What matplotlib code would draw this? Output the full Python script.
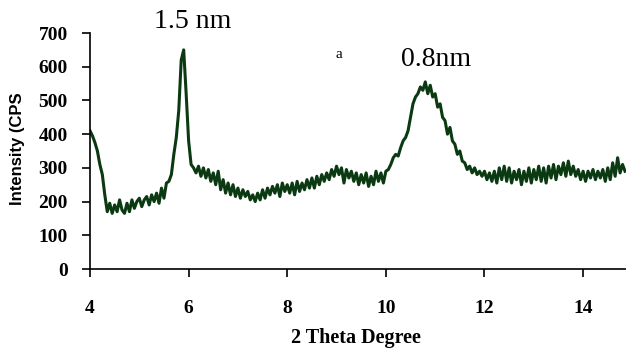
import numpy as np
import matplotlib
matplotlib.use("Agg")
import matplotlib.pyplot as plt

# XRD scan, 2-theta from 4.00 to 14.85 in 0.05 steps
two_theta = np.round(np.arange(4.0, 14.851, 0.05), 2)

intensity = [
    # 4.00 - 4.95
    410, 395, 375, 350, 310, 280, 220, 170, 195, 165, 190, 170, 205, 175, 165, 195, 170, 205, 180, 200,
    # 5.00 - 5.95
    210, 185, 205, 215, 190, 220, 200, 225, 195, 240, 210, 255, 260, 280, 340, 390, 470, 620, 650, 520,
    # 6.00 - 6.95
    380, 310, 300, 285, 305, 275, 300, 270, 295, 260, 285, 250, 290, 235, 265, 225, 255, 220, 250, 215,
    # 7.00 - 7.95
    240, 210, 235, 215, 230, 205, 220, 200, 225, 205, 235, 210, 240, 220, 245, 225, 250, 215, 255, 230,
    # 8.00 - 8.95
    250, 225, 255, 220, 260, 230, 255, 235, 265, 240, 270, 240, 275, 250, 280, 260, 285, 265, 295, 275,
    # 9.00 - 9.95
    305, 280, 300, 255, 295, 270, 290, 260, 285, 250, 280, 255, 285, 245, 275, 250, 290, 260, 285, 255,
    # 10.00 - 10.95
    290, 295, 310, 330, 340, 335, 360, 380, 390, 410, 450, 490, 510, 520, 540, 530, 555, 520, 545, 510,
    # 11.00 - 11.95
    520, 480, 490, 450, 440, 400, 420, 380, 370, 340, 350, 320, 315, 295, 305, 285, 300, 280, 290, 275,
    # 12.00 - 12.95
    290, 265, 285, 260, 290, 255, 300, 265, 305, 260, 300, 255, 290, 265, 295, 250, 290, 260, 300, 255,
    # 13.00 - 13.95
    295, 265, 305, 260, 300, 255, 305, 270, 310, 265, 305, 280, 315, 275, 320, 280, 305, 275, 295, 265,
    # 14.00 - 14.85
    290, 260, 290, 270, 295, 265, 290, 270, 295, 260, 300, 265, 315, 275, 330, 285, 310, 290,
]

x_ticks = [4, 6, 8, 10, 12, 14]
y_ticks = [0, 100, 200, 300, 400, 500, 600, 700]

serif = ["Liberation Serif", "DejaVu Serif"]
sans = ["Liberation Sans", "DejaVu Sans"]

fig = plt.figure(figsize=(6.26, 3.49), dpi=100)
ax = fig.add_axes([90 / 626, 80 / 349, 536 / 626, 236 / 349])

ax.plot(two_theta, intensity, color="#0b3a12", linewidth=2.2)

ax.set_xlim(4, 14.87)
ax.set_ylim(0, 700)
ax.set_xticks(x_ticks)
ax.set_yticks(y_ticks)

for s in ["top", "right"]:
    ax.spines[s].set_visible(False)
for s in ["left", "bottom"]:
    ax.spines[s].set_linewidth(1.2)
    ax.spines[s].set_color("black")

ax.tick_params(axis="both", direction="out", length=6, width=1.2)
ax.tick_params(axis="y", pad=10)
ax.tick_params(axis="x", pad=16)
for lbl in ax.get_xticklabels() + ax.get_yticklabels():
    lbl.set_family(serif)
    lbl.set_fontweight("bold")
    lbl.set_fontsize(14)

fig.text(356 / 626, 1 - 338 / 349, "2 Theta Degree", ha="center", va="center",
         family=serif, fontweight="bold", fontsize=14.5)
fig.text(18 / 626, 1 - 149 / 349, "Intensity (CPS", ha="center", va="center",
         rotation=90, family=sans, fontweight="bold", fontsize=12)

fig.text(193 / 626, 1 - 22 / 349, "1.5 nm", ha="center", va="center",
         family=serif, fontsize=20)
fig.text(339 / 626, 1 - 54 / 349, "a", ha="center", va="center",
         family=serif, fontsize=11)
fig.text(436 / 626, 1 - 60 / 349, "0.8nm", ha="center", va="center",
         family=serif, fontsize=20)

fig.savefig("out.png", dpi=100)
